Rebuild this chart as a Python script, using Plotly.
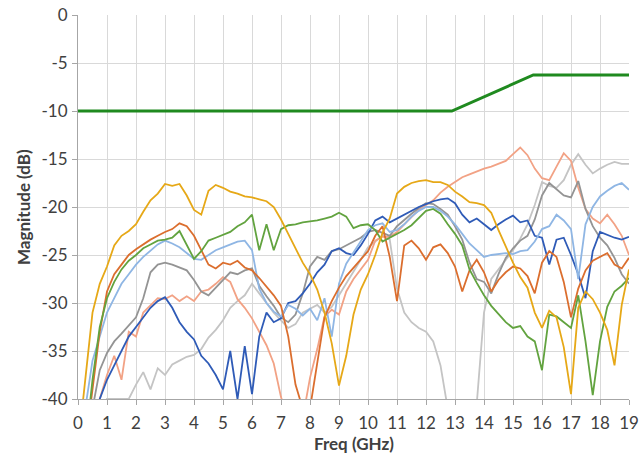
import plotly.graph_objects as go

freq = [i * 0.25 for i in range(77)]

gold = [-45, -38, -31, -28, -26.2, -24, -23, -22.5, -21.8, -20.5, -19.3, -18.6, -17.6, -17.8, -17.6, -18.8,
        -20.3, -20.8, -18.3, -17.7, -18.0, -18.4, -18.6, -18.9, -19.0, -19.2, -19.4, -20.0, -21.3, -22.8,
        -24.3, -25.8, -27.0, -28.6, -31.0, -34.2, -38.6, -35.5, -31.2, -28.6, -27.0, -25.0, -22.7, -21.2,
        -18.6, -17.9, -17.5, -17.3, -17.2, -17.4, -17.4, -17.7, -18.4, -18.9, -19.5, -19.6, -19.8, -20.6,
        -22.4, -24.2, -25.8, -27.3, -28.4, -31.0, -32.6, -30.8, -31.5, -34.6, -39.5, -30.5, -28.8, -29.6,
        -31.0, -32.8, -36.5, -30.2, -26.5]

orange = [-45, -45, -39, -33, -28.8, -27, -26, -25, -24.4, -23.9, -23.4, -23.0, -22.6, -22.3, -21.7, -22.0,
          -23.0, -24.5, -26.0, -26.4, -25.8, -26.0, -25.6, -26.3, -26.6, -27.4, -28.3, -29.2, -30.3, -33.5,
          -38.5, -41, -41, -36.3, -31.5, -29.8, -28.4, -27.2, -26.3, -25.4, -24.6, -23.0, -22.0, -25.2,
          -29.8, -24.0, -23.5, -24.3, -25.5, -24.2, -23.9, -24.8, -26.2, -28.8, -26.6, -25.5, -26.8, -28.8,
          -27.6, -26.8, -26.2, -26.4, -27.2, -29.0, -25.8, -24.6, -25.2, -27.8, -31.5, -28.5, -26.6, -25.6,
          -25.2, -24.8, -26.0, -26.4, -25.3]

green = [-45, -45, -38, -32.5, -29.5, -27.8, -26.5, -25.6, -25.0, -24.3, -23.9, -23.5, -23.4, -23.2, -22.5,
         -24.0, -25.4, -24.6, -23.5, -23.2, -22.9, -22.6, -22.0, -21.6, -20.8, -24.5, -21.8, -24.5, -22.3,
         -21.9, -21.8, -21.6, -21.5, -21.4, -21.2, -21.0, -20.6, -21.0, -22.2, -21.9, -21.8, -22.4, -23.6,
         -23.2, -22.8, -22.4, -21.9, -21.2, -20.4, -20.2, -20.7, -21.8, -22.8, -24.0, -26.5, -27.9, -29.2,
         -30.3, -31.2, -32.0, -32.6, -32.4, -33.5, -34.0, -37.0, -31.2, -31.4, -32.0, -32.6, -29.2, -34.0,
         -39.6, -34.0, -30.4, -28.8, -28.2, -27.4]

light_blue = [-45, -41, -36, -33.5, -31, -29.5, -28, -27, -26, -25.2, -24.5, -23.9, -23.5, -23.8, -24.2,
              -24.8, -25.4, -25.5, -25.0, -24.5, -24.2, -23.9, -23.6, -23.5, -24.5, -28.5, -30.0, -30.9,
              -31.4, -30.2, -30.6, -31.3, -30.6, -31.8, -29.5, -33.5, -28.0, -25.9, -24.7, -23.6, -22.4,
              -21.9, -21.7, -22.6, -22.4, -21.8, -21.0, -20.4, -20.0, -20.0, -20.4, -21.0, -21.8, -22.8,
              -23.8, -24.5, -25.2, -25.0, -24.9, -24.8, -24.9, -24.6, -24.5, -23.6, -22.3, -22.0, -20.8,
              -21.4, -22.3, -27.5, -21.8, -20.0, -18.9, -18.3, -17.8, -17.5, -18.2]

gray = [-45, -45, -41, -37, -35.2, -34.0, -33.2, -32.3, -31.5, -29.5, -26.8, -26.0, -25.8, -26.0, -26.3,
        -26.6, -27.6, -28.8, -29.2, -28.4, -27.6, -26.8, -27.0, -26.6, -26.4, -28.2, -29.3, -30.3, -31.5,
        -32.0, -31.2, -29.0, -26.2, -25.2, -25.5, -24.6, -24.4, -24.0, -23.6, -23.2, -22.6, -22.4, -22.7,
        -23.0, -22.0, -21.3, -20.7, -20.1, -19.6, -19.7, -20.2, -20.8, -22.0, -23.4, -25.8, -27.5, -27.8,
        -29.0, -27.0, -25.3, -24.3, -23.5, -23.0, -21.3, -18.8, -17.5, -18.2, -18.8, -19.0, -17.3, -20.2,
        -22.0, -23.2, -24.0, -25.3, -27.0, -28.0]

light_gray = [-45, -45, -45, -45, -40, -40, -40, -40, -38.5, -37.2, -39.0, -36.8, -37.5, -36.4, -36.0, -35.6,
              -35.4, -34.8, -33.6, -32.8, -31.8, -30.5, -29.8, -29.2, -28.0, -29.0, -30.0, -31.0, -31.8,
              -32.6, -32.2, -31.0, -30.6, -30.2, -31.0, -30.4, -29.2, -28.0, -26.8, -25.5, -24.2, -23.6,
              -23.0, -23.4, -28.5, -31.0, -32.0, -32.6, -33.0, -34.0, -36.5, -41, -41, -41, -41, -40.5,
              -31.0, -27.5, -26.5, -25.4, -24.5, -23.3, -21.8, -19.8, -17.4, -17.8, -18.0, -17.2, -15.6,
              -14.5, -15.6, -16.5, -16.0, -15.6, -15.3, -15.5, -15.5]

salmon = [-45, -45, -45, -40, -37.5, -35.5, -38.0, -33.0, -33.5, -31.0, -30.2, -29.5, -29.6, -29.2, -29.8,
          -29.3, -29.8, -28.8, -28.6, -28.0, -27.3, -27.8, -29.6, -30.5, -31.6, -33.0, -34.4, -36.3, -39.8,
          -42, -42, -42, -37.8, -34.8, -31.4, -30.7, -31.2, -28.8, -27.5, -26.5, -25.5, -23.5, -23.1, -23.1,
          -22.6, -21.8, -21.0, -20.3, -19.8, -19.3, -18.5, -17.9, -17.4, -16.9, -16.6, -16.3, -16.0, -15.8,
          -15.5, -15.2, -14.5, -13.8, -14.6, -16.0, -17.0, -17.2, -15.8, -14.4, -15.2, -18.0, -20.2, -21.2,
          -21.7, -20.8, -21.8, -23.0, -25.0]

dark_blue = [-45, -45, -45, -40, -38.0, -36.5, -35.0, -33.5, -32.5, -31.5, -30.5, -29.8, -29.4, -30.5, -32.0,
             -33.0, -33.8, -35.5, -36.3, -37.5, -39.0, -35.0, -40.0, -34.5, -39.5, -33.5, -31.0, -32.0, -31.6,
             -30.0, -29.8, -29.0, -28.0, -26.8, -26.0, -24.6, -24.3, -24.8, -25.0, -24.0, -22.8, -21.4, -21.0,
             -21.6, -21.2, -20.8, -20.4, -20.0, -19.7, -19.4, -19.2, -19.1, -19.6, -20.8, -21.6, -21.2, -21.8,
             -22.4, -21.8, -21.3, -20.9, -21.6, -21.4, -23.0, -23.2, -26.0, -23.4, -23.2, -25.0, -27.0, -29.5,
             -24.6, -22.6, -22.9, -23.2, -23.4, -23.1]

limit_freq = [0, 12.89, 15.7, 19]
limit_db = [-10, -10, -6.25, -6.25]

y_ticks = [-40, -35, -30, -25, -20, -15, -10, -5, 0]
y_tick_labels = ["-40", "-35", "-30", "-25", "-20", "-15", "-10", "-5", "0"]
x_ticks = list(range(20))
x_tick_labels = [str(v) for v in x_ticks]

series = [
    ("Light gray", light_gray, "#C4C4C4"),
    ("Salmon", salmon, "#F2A285"),
    ("Gray", gray, "#949494"),
    ("Dark blue", dark_blue, "#2F5BB7"),
    ("Light blue", light_blue, "#8FB6E4"),
    ("Orange", orange, "#DB6E2E"),
    ("Green", green, "#62A33F"),
    ("Gold", gold, "#E6A817"),
]

fig = go.Figure()
for name, vals, color in series:
    fig.add_trace(go.Scatter(x=freq, y=vals, mode="lines", name=name,
                             line=dict(color=color, width=1.8)))
fig.add_trace(go.Scatter(x=limit_freq, y=limit_db, mode="lines", name="Limit",
                         line=dict(color="#1F8A1F", width=3)))

tick_font = dict(family="Lato, 'Open Sans', sans-serif", size=17, color="#404040")
title_font = dict(family="Lato, 'Open Sans', sans-serif", size=17, color="#404040")

fig.update_layout(
    width=640, height=463,
    margin=dict(l=78, r=11, t=15, b=64),
    paper_bgcolor="white", plot_bgcolor="white",
    showlegend=False,
    font=tick_font,
    annotations=[
        dict(text="<b>Freq (GHz)</b>", xref="paper", yref="paper", x=0.5, y=0,
             xanchor="center", yanchor="middle", yshift=-44, showarrow=False, font=title_font),
        dict(text="<b>Magnitude (dB)</b>", xref="paper", yref="paper", x=0, y=0.5,
             xanchor="center", yanchor="middle", xshift=-55, textangle=-90, showarrow=False,
             font=title_font),
    ],
)
fig.update_xaxes(range=[0, 19], tickmode="array", tickvals=x_ticks, ticktext=x_tick_labels,
                 showgrid=True, gridcolor="#D9D9D9", gridwidth=1, automargin=False,
                 showline=True, linecolor="#A6A6A6", linewidth=1, ticks="outside", ticklen=5,
                 tickcolor="#A6A6A6", zeroline=False, tickfont=tick_font, ticklabelstandoff=4,
                 ticklabeloverflow="allow")
fig.update_yaxes(range=[-40, 0], tickmode="array", tickvals=y_ticks, ticktext=y_tick_labels,
                 showgrid=True, gridcolor="#D9D9D9", gridwidth=1, automargin=False,
                 showline=True, linecolor="#A6A6A6", linewidth=1, ticks="outside", ticklen=5,
                 tickcolor="#A6A6A6", zeroline=False, tickfont=tick_font, ticklabelstandoff=1,
                 ticklabeloverflow="allow")

# remove the browser's default 8px page margin so the 640x463 figure fills the window
fig.write_html("out.html", config={"displayModeBar": False},
               post_script="document.body.style.margin='0';")
